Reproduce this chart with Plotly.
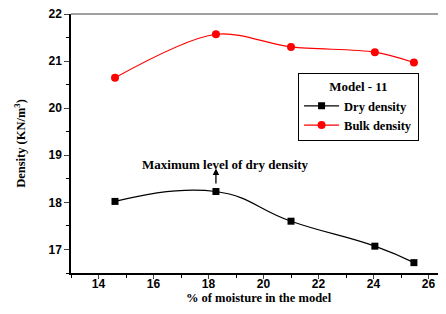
import plotly.graph_objects as go

moisture = [14.6, 18.27, 21.0, 24.05, 25.47]
dry_density = [18.02, 18.23, 17.60, 17.07, 16.72]
bulk_density = [20.645, 21.57, 21.30, 21.19, 20.97]

x_ticks = [14, 16, 18, 20, 22, 24, 26]
y_ticks = [17, 18, 19, 20, 21, 22]

fig = go.Figure()
fig.add_trace(go.Scatter(
    x=moisture, y=dry_density, name="Dry density", mode="lines+markers",
    line=dict(color="black", width=1.2, shape="spline", smoothing=1.3),
    marker=dict(symbol="square", size=7, color="black"),
))
fig.add_trace(go.Scatter(
    x=moisture, y=bulk_density, name="Bulk density", mode="lines+markers",
    line=dict(color="red", width=1.2, shape="spline", smoothing=0.9),
    marker=dict(symbol="circle", size=8, color="red"),
))

tickfont = dict(family="Arial, Liberation Sans", size=12, color="black", weight="bold")
titlefont = dict(family="Liberation Serif, Times New Roman", size=12.5, color="black", weight="bold")

fig.update_layout(
    width=438, height=306,
    margin=dict(l=63, r=0, t=6, b=41),
    paper_bgcolor="white", plot_bgcolor="white",
    showlegend=True,
    legend=dict(
        x=0.605, y=0.772, xanchor="left", yanchor="top",
        bordercolor="black", borderwidth=1.2, bgcolor="white",
        font=dict(family="Liberation Serif, Times New Roman", size=12.5, color="black", weight="bold"),
        title=dict(text="Model - 11", side="top center",
                   font=dict(family="Liberation Serif, Times New Roman", size=13, color="black", weight="bold")),
        tracegroupgap=0, itemwidth=35,
    ),
    xaxis=dict(
        range=[13, 26.636], tickvals=x_ticks, ticks="outside", ticklen=4, tickwidth=1.2,
        ticklabelstandoff=-5,
        showline=True, linecolor="black", linewidth=1.5, showgrid=False, zeroline=False,
        tickfont=tickfont, ticklabeloverflow="allow",
        minor=dict(tickvals=[13, 15, 17, 19, 21, 23, 25], ticks="outside", ticklen=3, tickwidth=1.2, tickcolor="black"),
        title=dict(text="% of moisture in the model", font=titlefont, standoff=2),
    ),
    yaxis=dict(
        range=[16.5, 22], tickvals=y_ticks, ticks="outside", ticklen=5, tickwidth=1.2,
        showline=True, linecolor="black", linewidth=1.5, showgrid=False, zeroline=False,
        tickfont=tickfont, ticklabeloverflow="allow",
        minor=dict(tickvals=[16.5, 17.5, 18.5, 19.5, 20.5, 21.5], ticks="outside", ticklen=3, tickwidth=1.2, tickcolor="black"),
        title=dict(text="Density (KN/m<sup>3</sup>)", font=titlefont, standoff=20),
    ),
    shapes=[dict(type="line", xref="paper", yref="paper", x0=0, x1=1, y0=1, y1=1,
                 line=dict(color="#808080", width=1.5))],
    annotations=[
        dict(x=moisture[1], y=18.72, xref="x", yref="y", ax=moisture[1], ay=18.37,
             axref="x", ayref="y", text="", showarrow=True, arrowhead=2, arrowsize=1,
             arrowwidth=1.3, arrowcolor="black"),
        dict(x=18.6, y=18.81, xref="x", yref="y", text="Maximum level of dry density",
             showarrow=False, yanchor="middle",
             font=dict(family="Liberation Serif, Times New Roman", size=13, color="black", weight="bold")),
    ],
)

fig.write_html("out.html")
